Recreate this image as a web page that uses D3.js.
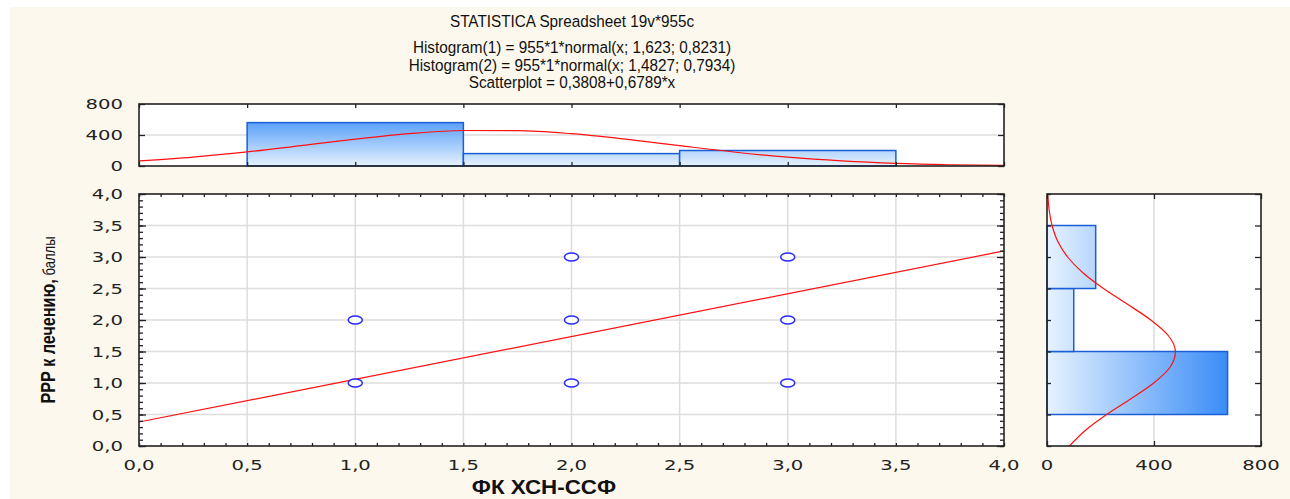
<!DOCTYPE html>
<html>
<head>
<meta charset="utf-8">
<script src="https://cdn.jsdelivr.net/npm/d3@7"></script>
<style>
  body { margin: 0; background: #ffffff; }
  svg { display: block; }
</style>
</head>
<body>
<script>
// ---- data ----
var titleLines = [
  "STATISTICA Spreadsheet 19v*955c",
  "Histogram(1) = 955*1*normal(x; 1,623; 0,8231)",
  "Histogram(2) = 955*1*normal(x; 1,4827; 0,7934)",
  "Scatterplot = 0,3808+0,6789*x"
];
var binStart = [0.5, 1.5, 2.5];
var binEnd = [1.5, 2.5, 3.5];
var topCounts = [560, 160, 200];     // histogram of ФК ХСН-ССФ
var rightCounts = [675, 100, 182];   // histogram of РРР к лечению

var scatterX = [1, 1, 2, 2, 2, 3, 3, 3];
var scatterY = [1, 2, 1, 2, 3, 1, 2, 3];

var fitX = [0, 4];
var fitY = [0.3808, 3.0964];

var curveAt = [0, 0.25, 0.5, 0.75, 1, 1.25, 1.5, 1.75, 2, 2.25, 2.5, 2.75, 3, 3.25, 3.5, 3.75, 4];
var topCurve = [66, 115, 182, 264, 347, 418, 458, 457, 417, 346, 262, 181, 114, 66, 34, 16, 7];
var rightCurve = [84, 144, 223, 314, 399, 460, 480, 454, 388, 301, 211, 134, 77, 40, 19, 8, 3];

var mainTicks = [0, 0.5, 1, 1.5, 2, 2.5, 3, 3.5, 4];
var countTicks = [0, 400, 800];

//----- canvas -----
var width = 1290, height = 499;
var svg = d3.select("body").append("svg")
  .attr("width", width).attr("height", height);

svg.append("rect").attr("x", 10).attr("y", 7)
  .attr("width", width - 10).attr("height", height - 7)
  .attr("fill", "#fdf8ed");

var defs = svg.append("defs");
var gTop = defs.append("linearGradient").attr("id", "gradTop")
  .attr("gradientUnits", "userSpaceOnUse")
  .attr("x1", 0).attr("y1", 104).attr("x2", 0).attr("y2", 166);
gTop.append("stop").attr("offset", 0).attr("stop-color", "#1f7ef5");
gTop.append("stop").attr("offset", 1).attr("stop-color", "#e6f2ff");
var gRight = defs.append("linearGradient").attr("id", "gradRight")
  .attr("gradientUnits", "userSpaceOnUse")
  .attr("x1", 1047).attr("y1", 0).attr("x2", 1261).attr("y2", 0);
gRight.append("stop").attr("offset", 0).attr("stop-color", "#e6f2ff");
gRight.append("stop").attr("offset", 1).attr("stop-color", "#1a7af5");

// scales
var x = d3.scaleLinear().domain([0, 4]).range([139, 1004]);
var y = d3.scaleLinear().domain([0, 4]).range([446, 194]);
var yTop = d3.scaleLinear().domain([0, 800]).range([166, 104]);
var xRight = d3.scaleLinear().domain([0, 800]).range([1047, 1261]);

var tickFont = "'DejaVu Sans', sans-serif";
var stretch = 1.4;

// title
svg.append("g").selectAll("text")
  .data(titleLines).enter().append("text")
  .attr("transform", function(d, i) {
    var ty = i == 0 ? 27 : 53 + (i - 1) * 17.5;
    return "translate(572," + ty + ") scale(0.9,1)";
  })
  .attr("text-anchor", "middle")
  .attr("font-family", "'Liberation Sans', Arial, sans-serif")
  .attr("font-size", 17)
  .attr("fill", "#111")
  .text(function(d) { return d; });

// white plot areas
svg.append("rect").attr("x", x(0)).attr("y", yTop(800))
  .attr("width", x(4) - x(0)).attr("height", yTop(0) - yTop(800)).attr("fill", "#fff");
svg.append("rect").attr("x", x(0)).attr("y", y(4))
  .attr("width", x(4) - x(0)).attr("height", y(0) - y(4)).attr("fill", "#fff");
svg.append("rect").attr("x", xRight(0)).attr("y", y(4))
  .attr("width", xRight(800) - xRight(0)).attr("height", y(0) - y(4)).attr("fill", "#fff");

// gridlines
var grid = svg.append("g").attr("stroke", "#dddddd").attr("stroke-width", 1.5);
grid.selectAll(".gx").data(mainTicks.slice(1, -1)).enter().append("line")
  .attr("x1", function(d) { return x(d); }).attr("x2", function(d) { return x(d); })
  .attr("y1", y(4)).attr("y2", y(0));
grid.selectAll(".gy").data(mainTicks.slice(1, -1)).enter().append("line")
  .attr("y1", function(d) { return y(d); }).attr("y2", function(d) { return y(d); })
  .attr("x1", x(0)).attr("x2", x(4));
grid.append("line").attr("x1", x(0)).attr("x2", x(4))
  .attr("y1", yTop(400)).attr("y2", yTop(400));
grid.append("line").attr("y1", y(4)).attr("y2", y(0))
  .attr("x1", xRight(400)).attr("x2", xRight(400));

// top histogram bars
svg.append("g").selectAll("rect")
  .data(topCounts).enter().append("rect")
  .attr("x", function(d, i) { return x(binStart[i]); })
  .attr("width", function(d, i) { return x(binEnd[i]) - x(binStart[i]); })
  .attr("y", function(d) { return yTop(d); })
  .attr("height", function(d) { return yTop(0) - yTop(d); })
  .attr("fill", "url(#gradTop)")
  .attr("stroke", "#1b5fd6").attr("stroke-width", 1.5);

// right histogram bars
svg.append("g").selectAll("rect")
  .data(rightCounts).enter().append("rect")
  .attr("x", xRight(0))
  .attr("width", function(d) { return xRight(d) - xRight(0); })
  .attr("y", function(d, i) { return y(binEnd[i]); })
  .attr("height", function(d, i) { return y(binStart[i]) - y(binEnd[i]); })
  .attr("fill", "url(#gradRight)")
  .attr("stroke", "#1b5fd6").attr("stroke-width", 1.5);

// normal curves
var topLine = d3.line()
  .x(function(d, i) { return x(curveAt[i]); })
  .y(function(d) { return yTop(d); })
  .curve(d3.curveMonotoneX);
svg.append("path").datum(topCurve).attr("d", topLine)
  .attr("fill", "none").attr("stroke", "#ff1010").attr("stroke-width", 1.2);

var rightLine = d3.line()
  .x(function(d) { return xRight(d); })
  .y(function(d, i) { return y(curveAt[i]); })
  .curve(d3.curveMonotoneY);
svg.append("path").datum(rightCurve).attr("d", rightLine)
  .attr("fill", "none").attr("stroke", "#ff1010").attr("stroke-width", 1.2);

// regression line
svg.append("line")
  .attr("x1", x(fitX[0])).attr("y1", y(fitY[0]))
  .attr("x2", x(fitX[1])).attr("y2", y(fitY[1]))
  .attr("stroke", "#ff1010").attr("stroke-width", 1.2);

// scatter points
svg.append("g").selectAll("ellipse")
  .data(scatterX).enter().append("ellipse")
  .attr("cx", function(d) { return x(d); })
  .attr("cy", function(d, i) { return y(scatterY[i]); })
  .attr("rx", 7).attr("ry", 4)
  .attr("fill", "#fff").attr("stroke", "#2a2aff").attr("stroke-width", 1.5);

// ---- axes ----
function tickAxis(axis, transform, size, values) {
  var g = svg.append("g").attr("transform", transform)
    .call(axis.tickValues(values).tickSize(size).tickFormat(""));
  g.select(".domain").remove();
  g.selectAll("line").attr("stroke", "#222").attr("stroke-width", 1.3);
  return g;
}
var minor = d3.range(0, 41).map(function(d) { return d / 10; });

// main plot ticks (inward)
tickAxis(d3.axisBottom(x), "translate(0," + y(0) + ")", -3, minor);
tickAxis(d3.axisTop(x), "translate(0," + y(4) + ")", -3, minor);
tickAxis(d3.axisLeft(y), "translate(" + x(0) + ",0)", -4, minor);
tickAxis(d3.axisRight(y), "translate(" + x(4) + ",0)", -4, minor);
tickAxis(d3.axisLeft(y), "translate(" + x(0) + ",0)", -7, mainTicks);
tickAxis(d3.axisRight(y), "translate(" + x(4) + ",0)", -7, mainTicks);

// top histogram ticks
tickAxis(d3.axisBottom(x), "translate(0," + yTop(0) + ")", -4, mainTicks);
tickAxis(d3.axisTop(x), "translate(0," + yTop(800) + ")", -4, mainTicks);
tickAxis(d3.axisLeft(yTop), "translate(" + x(0) + ",0)", -6, countTicks);
tickAxis(d3.axisRight(yTop), "translate(" + x(4) + ",0)", -6, countTicks);

// right histogram ticks
tickAxis(d3.axisLeft(y), "translate(" + xRight(0) + ",0)", -4, mainTicks);
tickAxis(d3.axisRight(y), "translate(" + xRight(800) + ",0)", -6, mainTicks);
tickAxis(d3.axisBottom(xRight), "translate(0," + y(0) + ")", -5, countTicks);
tickAxis(d3.axisTop(xRight), "translate(0," + y(4) + ")", -5, countTicks);

// frames
var frame = svg.append("g").attr("fill", "none").attr("stroke", "#222").attr("stroke-width", 1.6);
frame.append("rect").attr("x", x(0)).attr("y", yTop(800))
  .attr("width", x(4) - x(0)).attr("height", yTop(0) - yTop(800));
frame.append("rect").attr("x", x(0)).attr("y", y(4))
  .attr("width", x(4) - x(0)).attr("height", y(0) - y(4));
frame.append("rect").attr("x", xRight(0)).attr("y", y(4))
  .attr("width", xRight(800) - xRight(0)).attr("height", y(0) - y(4));

// tick labels (stretched wide like the original)
var comma = function(d) { return d3.format(".1f")(d).replace(".", ","); };
function labels(data, px, py, anchor, fmt) {
  svg.append("g").selectAll("text")
    .data(data).enter().append("text")
    .attr("transform", function(d) { return "translate(" + px(d) + "," + py(d) + ") scale(" + stretch + ",1)"; })
    .attr("text-anchor", anchor)
    .attr("font-family", tickFont).attr("font-size", 14)
    .attr("fill", "#222")
    .text(fmt);
}
labels(mainTicks, function(d) { return 123; }, function(d) { return y(d) + 5; }, "end", comma);
labels(mainTicks, function(d) { return x(d); }, function(d) { return 470; }, "middle", comma);
labels(countTicks, function(d) { return 123; }, function(d) { return yTop(d) + 5; }, "end", function(d) { return d; });
labels(countTicks, function(d) { return xRight(d); }, function(d) { return 470; }, "middle", function(d) { return d; });

// axis titles
svg.append("text")
  .attr("transform", "translate(544,494) scale(1.12,1)")
  .attr("text-anchor", "middle")
  .attr("font-family", "'Liberation Sans', Arial, sans-serif")
  .attr("font-weight", "bold").attr("font-size", 20)
  .attr("fill", "#111")
  .text("ФК ХСН-ССФ");

var yt = svg.append("text")
  .attr("transform", "translate(55,320) rotate(-90) scale(0.77,1)")
  .attr("text-anchor", "middle")
  .attr("font-family", "'Liberation Sans', Arial, sans-serif")
  .attr("fill", "#111");
yt.append("tspan").attr("font-weight", "bold").attr("font-size", 21).text("РРР к лечению,");
yt.append("tspan").attr("font-size", 17).text(" баллы");
</script>
</body>
</html>
